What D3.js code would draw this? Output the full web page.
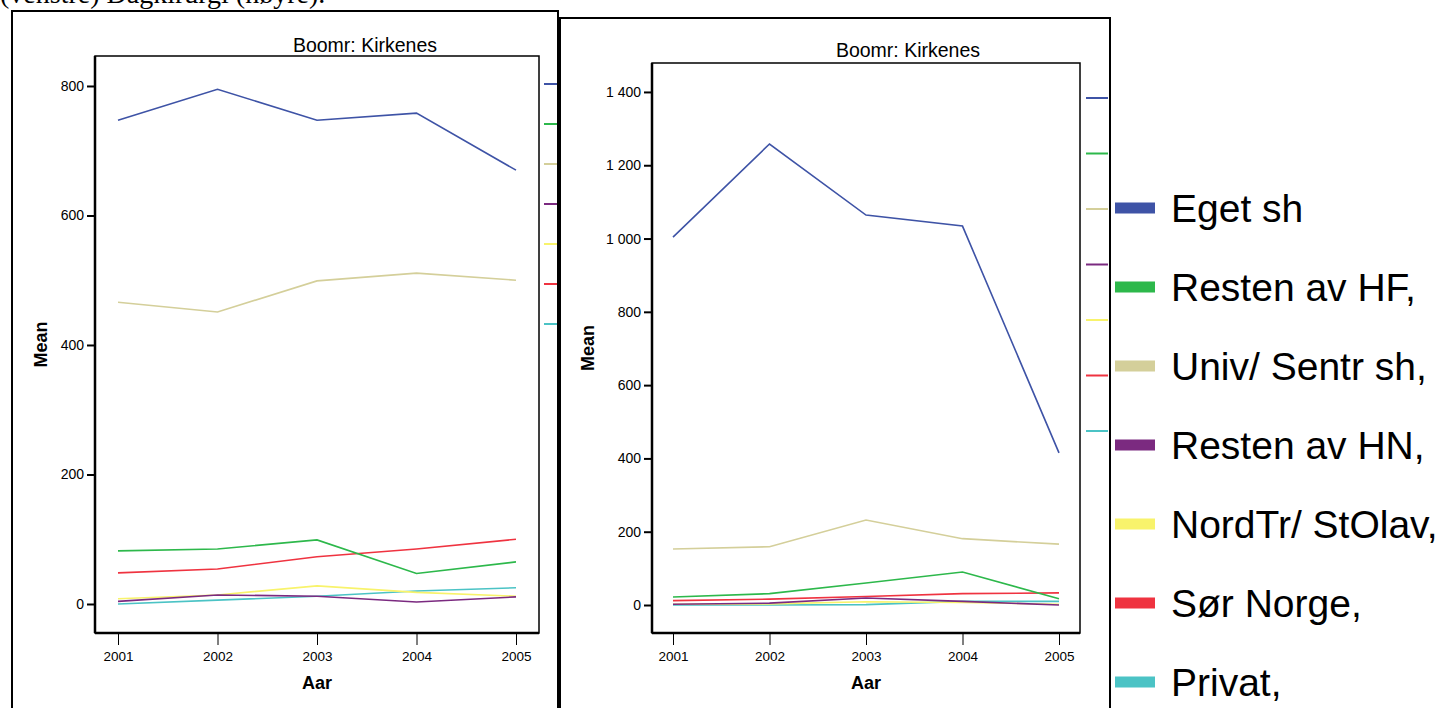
<!DOCTYPE html>
<html lang="no">
<head>
  <meta charset="UTF-8">
  <title>Boomr: Kirkenes</title>
  <script src="https://d3js.org/d3.v7.min.js"></script>
  <style>
    body { margin: 0; background: #fff; }
    svg { display: block; }
  </style>
</head>
<body>
  <svg width="1448" height="708"></svg>
  <script>
    // data
    const years = [2001, 2002, 2003, 2004, 2005];
    const seriesNames = ["Eget sh", "Resten av HF,", "Univ/ Sentr sh,", "Resten av HN,", "NordTr/ StOlav,", "Sør Norge,", "Privat,"];
    const seriesColors = ["#3e53a6", "#2db84b", "#d4cf9a", "#7b2a80", "#f8f36b", "#ef3340", "#4bc3c5"];

    // left chart (Mean)
    const leftEget = [747, 795, 747, 758, 670];
    const leftHF = [82, 85, 99, 47, 65];
    const leftUniv = [466, 451, 499, 511, 500];
    const leftHN = [4, 14, 12, 3, 11];
    const leftNordTr = [8, 14, 28, 18, 12];
    const leftSor = [48, 54, 73, 85, 100];
    const leftPrivat = [0, 6, 12, 20, 25];

    // right chart (Mean)
    const rightEget = [1004, 1258, 1064, 1034, 415];
    const rightHF = [22, 31, 60, 90, 17];
    const rightUniv = [153, 159, 232, 181, 166];
    const rightHN = [2, 5, 19, 10, 0];
    const rightNordTr = [2, 3, 9, 7, 2];
    const rightSor = [12, 16, 23, 31, 33];
    const rightPrivat = [0, 0, 1, 10, 10];

    const leftTicks = [0, 200, 400, 600, 800];
    const rightTicks = [0, 200, 400, 600, 800, 1000, 1200, 1400];

    const svg = d3.select("svg");
    const sans = "'Liberation Sans', Arial, sans-serif";

    // caption line, cut off at the top like in the source
    svg.append("text")
      .attr("x", 0).attr("y", 3)
      .style("font", "28px 'Liberation Serif', 'Times New Roman', serif")
      .text("(venstre) Dagkirurgi (høyre).");

    function panel(opt) {
      const g = svg.append("g");
      // outer panel border
      g.append("rect")
        .attr("x", opt.box[0]).attr("y", opt.box[1])
        .attr("width", opt.box[2]).attr("height", 720)
        .attr("fill", "none").attr("stroke", "#000").attr("stroke-width", 2);

      const [fx0, fy0, fx1, fy1] = opt.frame;
      const x = d3.scalePoint().domain(years).range([fx0 + opt.pad, fx1 - opt.pad]);
      const y = d3.scaleLinear().domain(opt.ydom).range([fy1, fy0]);

      g.append("text")
        .attr("x", opt.titleX).attr("y", fy0 - opt.titleGap)
        .attr("text-anchor", "middle")
        .style("font", "19.5px " + sans)
        .text("Boomr: Kirkenes");

      // frame
      g.append("rect")
        .attr("x", fx0).attr("y", fy0)
        .attr("width", fx1 - fx0).attr("height", fy1 - fy0)
        .attr("fill", "none").attr("stroke", "#000").attr("stroke-width", 1.5);

      const yAxis = g.append("g")
        .attr("transform", `translate(${fx0},0)`)
        .call(d3.axisLeft(y).tickValues(opt.ticks).tickSize(8).tickPadding(3)
          .tickFormat(d => d3.format(",")(d).replace(/,/g, " ")));
      yAxis.select(".domain").attr("stroke-width", 2.5).attr("d", `M0,${fy0}V${fy1}`);
      yAxis.selectAll(".tick line").attr("stroke-width", 2);
      yAxis.selectAll("text").style("font", "14px " + sans);

      const xAxis = g.append("g")
        .attr("transform", `translate(0,${fy1})`)
        .call(d3.axisBottom(x).tickSize(12).tickPadding(6));
      xAxis.select(".domain").attr("stroke-width", 2.5).attr("d", `M${fx0},0H${fx1}`);
      xAxis.selectAll(".tick line").attr("stroke-width", 1);
      xAxis.selectAll("text").style("font", "13.5px " + sans);

      g.append("text")
        .attr("x", (fx0 + fx1) / 2).attr("y", fy1 + 56)
        .attr("text-anchor", "middle")
        .style("font", "bold 18px " + sans)
        .text("Aar");

      g.append("text")
        .attr("transform", `translate(${opt.meanX},${(fy0 + fy1) / 2}) rotate(-90)`)
        .attr("text-anchor", "middle")
        .style("font", "bold 18px " + sans)
        .text("Mean");

      const line = d3.line().x((d, i) => x(years[i])).y(d => y(d));
      g.append("g").selectAll("path")
        .data(opt.series.map((v, i) => ({ v, c: seriesColors[i] })).reverse())
        .join("path")
        .attr("d", d => line(d.v))
        .attr("fill", "none")
        .attr("stroke", d => d.c)
        .attr("stroke-width", 1.6);

      // clipped legend keys at the panel edge
      g.append("g").selectAll("line")
        .data(seriesColors)
        .join("line")
        .attr("x1", opt.key[0]).attr("x2", opt.key[1])
        .attr("y1", (d, i) => opt.key[2] + i * opt.key[3])
        .attr("y2", (d, i) => opt.key[2] + i * opt.key[3])
        .attr("stroke", d => d)
        .attr("stroke-width", 2);
    }

    panel({
      box: [12, 11, 546],
      frame: [95, 56, 539, 633],
      pad: 23,
      ydom: [-44.8, 846.3],
      ticks: leftTicks,
      titleX: 365,
      titleGap: 4,
      meanX: 47,
      key: [544, 557, 84, 40],
      series: [leftEget, leftHF, leftUniv, leftHN, leftNordTr, leftSor, leftPrivat]
    });

    panel({
      box: [560, 18, 550],
      frame: [652, 63, 1080, 633],
      pad: 21,
      ydom: [-76.4, 1479],
      ticks: rightTicks,
      titleX: 908,
      titleGap: 6,
      meanX: 594,
      key: [1086, 1108, 98, 55.5],
      series: [rightEget, rightHF, rightUniv, rightHN, rightNordTr, rightSor, rightPrivat]
    });

    // big legend
    const legendY = d3.scaleLinear().domain([0, 6]).range([208, 682]);
    const legend = svg.append("g").selectAll("g")
      .data(seriesNames)
      .join("g")
      .attr("transform", (d, i) => `translate(1115,${legendY(i)})`);
    legend.append("rect")
      .attr("x", 0).attr("y", -5.5)
      .attr("width", 40).attr("height", 11)
      .attr("fill", (d, i) => seriesColors[i]);
    legend.append("text")
      .attr("x", 56).attr("y", 0)
      .attr("dy", "0.35em")
      .style("font", "39px " + sans)
      .text(d => d);
  </script>
</body>
</html>
